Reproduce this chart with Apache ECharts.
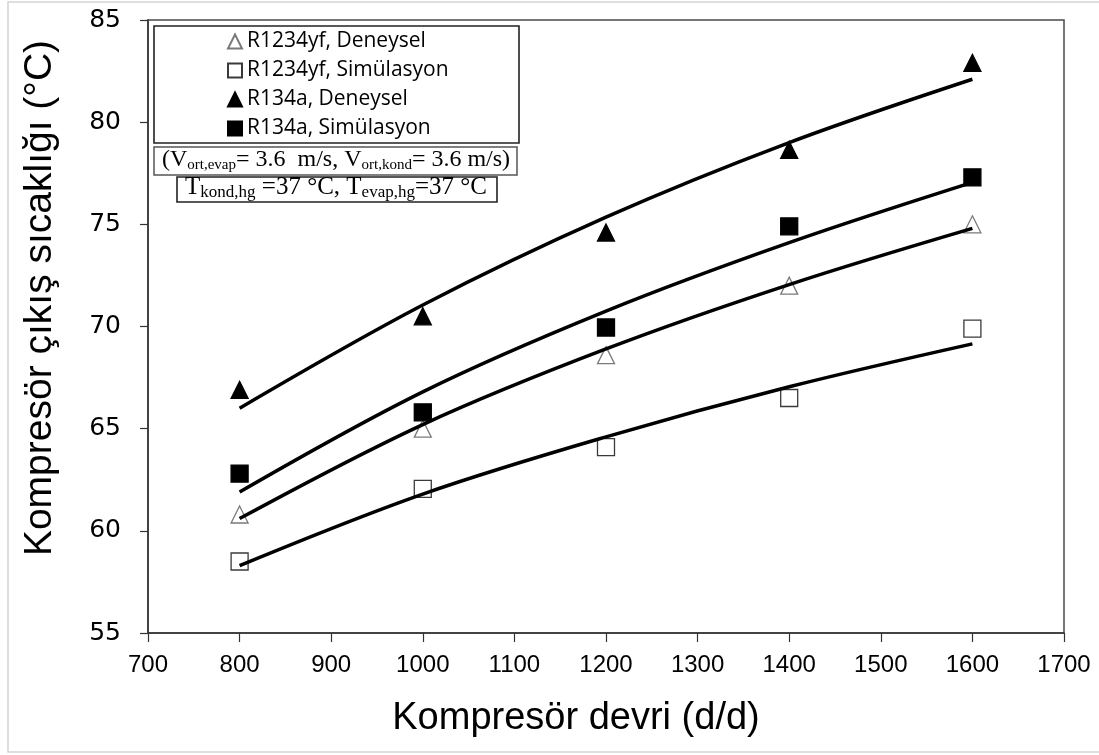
<!DOCTYPE html>
<html>
<head>
<meta charset="utf-8">
<script src="https://cdn.jsdelivr.net/npm/echarts@6/dist/echarts.min.js"></script>
<style>
  html, body { margin: 0; padding: 0; background: #fff; }
  #main { width: 1099px; height: 755px; }
</style>
</head>
<body>
<div id="main"></div>
<script>
// kompresör devri (d/d)
var rpm = [800, 1000, 1200, 1400, 1600]
var xTicks = [700, 800, 900, 1000, 1100, 1200, 1300, 1400, 1500, 1600, 1700]
var yTicks = [55, 60, 65, 70, 75, 80, 85]

// ölçülen / hesaplanan noktalar
var yfDeneysel = [60.8, 65.0, 68.6, 72.0, 75.0]
var yfSimulasyon = [58.5, 62.05, 64.1, 66.5, 69.9]
var r134aDeneysel = [66.9, 70.5, 74.6, 78.65, 82.9]
var r134aSimulasyon = [62.8, 65.8, 69.95, 74.9, 77.3]

// eğri uydurma çizgileri
var yfDeneyselFit = [60.6, 65.2, 68.9, 72.05, 74.8]
var yfSimulasyonFit = [58.3, 61.8, 64.6, 67.05, 69.15]
var r134aDeneyselFit = [66.0, 71.05, 75.35, 79.0, 82.1]
var r134aSimulasyonFit = [61.9, 66.8, 70.75, 74.1, 77.05]

var legendNames = ['R1234yf, Deneysel', 'R1234yf, Simülasyon', 'R134a, Deneysel', 'R134a, Simülasyon']

function pairs (xs, ys) {
  return xs.map(function (x, i) { return [x, ys[i]] })
}

function scatter (name, ys, symbol, fill, stroke) {
  return {
    name: name,
    type: 'scatter',
    data: pairs(rpm, ys),
    symbol: symbol,
    symbolSize: 17,
    z: 2,
    itemStyle: { color: fill, borderColor: stroke, borderWidth: 1.3, opacity: 1 }
  }
}

function fitLine (ys) {
  return {
    type: 'line',
    data: pairs(rpm, ys),
    smooth: 0.35,
    showSymbol: false,
    silent: true,
    z: 3,
    lineStyle: { color: '#000', width: 3.5 }
  }
}

var chart = echarts.init(document.getElementById('main'))
chart.setOption({
  animation: false,
  backgroundColor: '#fff',
  grid: {
    left: 148, right: 35, top: 20, bottom: 122,
    show: true, borderColor: '#4a4a4a', borderWidth: 1.5
  },
  legend: {
    data: legendNames,
    orient: 'vertical',
    left: 227,
    top: 31,
    padding: 0,
    itemWidth: 14,
    itemHeight: 14,
    itemGap: 8,
    textStyle: { fontFamily: 'Open Sans', fontSize: 21, lineHeight: 21, color: '#000' }
  },
  xAxis: {
    type: 'value',
    min: xTicks[0],
    max: xTicks[xTicks.length - 1],
    interval: 100,
    axisLine: { lineStyle: { color: '#333', width: 1.5 } },
    axisTick: { inside: false, length: 9, lineStyle: { color: '#333', width: 1.2 } },
    axisLabel: {
      margin: 20, fontFamily: 'Liberation Sans', fontSize: 24, color: '#000',
      formatter: function (v) { return String(v) }
    },
    splitLine: { show: false }
  },
  yAxis: {
    type: 'value',
    min: yTicks[0],
    max: yTicks[yTicks.length - 1],
    interval: 5,
    axisLine: { lineStyle: { color: '#333', width: 1.5 } },
    axisTick: { inside: false, length: 8, lineStyle: { color: '#333', width: 1.2 } },
    axisLabel: { margin: 27, fontFamily: 'DejaVu Sans', fontSize: 25, color: '#000' },
    splitLine: { show: false }
  },
  graphic: [
    // dış çerçeve
    { type: 'rect', shape: { x: 8, y: 2, width: 1100, height: 750 }, style: { fill: 'none', stroke: '#d4d4d4', lineWidth: 1.5 }, silent: true },
    // eksen başlıkları (orijinalde ortadan biraz kaymış)
    {
      type: 'text', x: 576, y: 719,
      style: { text: 'Kompresör devri (d/d)', fontFamily: 'Liberation Sans', fontSize: 38, fill: '#000', align: 'center', verticalAlign: 'middle' }
    },
    {
      type: 'text', x: 40, y: 298, rotation: Math.PI / 2,
      style: { text: 'Kompresör çıkış sıcaklığı (°C)', fontFamily: 'Liberation Sans', fontSize: 39, fill: '#000', align: 'center', verticalAlign: 'middle' }
    },
    // lejant ve not kutuları
    { type: 'rect', shape: { x: 154, y: 26, width: 365, height: 117 }, style: { fill: '#fff', stroke: '#222', lineWidth: 1.6 }, z: 1 },
    { type: 'rect', shape: { x: 154, y: 147, width: 363, height: 28 }, style: { fill: '#fff', stroke: '#555', lineWidth: 1.5 }, z: 1 },
    { type: 'rect', shape: { x: 177, y: 177, width: 320, height: 25 }, style: { fill: '#fff', stroke: '#222', lineWidth: 1.6 }, z: 1 },
    {
      type: 'text',
      x: 336, y: 148,
      z: 5,
      style: {
        text: '{a|(V}{s|ort,evap}{a|= 3.6  m/s, V}{s|ort,kond}{a|= 3.6 m/s)}',
        align: 'center',
        verticalAlign: 'top',
        fill: '#000',
        rich: {
          a: { fontFamily: 'Liberation Serif', fontSize: 24, lineHeight: 24, verticalAlign: 'top' },
          s: { fontFamily: 'Liberation Serif', fontSize: 15, lineHeight: 15, verticalAlign: 'top', padding: [10, 0, 0, 0] }
        }
      }
    },
    {
      type: 'text',
      x: 336, y: 175,
      z: 5,
      style: {
        text: '{a|T}{s|kond,hg}{a| =37 °C, T}{s|evap,hg}{a|=37 °C}',
        align: 'center',
        verticalAlign: 'top',
        fill: '#000',
        rich: {
          a: { fontFamily: 'Liberation Serif', fontSize: 25, lineHeight: 25, verticalAlign: 'top' },
          s: { fontFamily: 'Liberation Serif', fontSize: 17, lineHeight: 17, verticalAlign: 'top', padding: [9, 0, 0, 0] }
        }
      }
    }
  ],
  series: [
    scatter(legendNames[0], yfDeneysel, 'triangle', '#fff', '#7a7a7a'),
    scatter(legendNames[1], yfSimulasyon, 'rect', '#fff', '#3a3a3a'),
    scatter(legendNames[2], r134aDeneysel, 'triangle', '#000', '#000'),
    scatter(legendNames[3], r134aSimulasyon, 'rect', '#000', '#000'),
    fitLine(yfDeneyselFit),
    fitLine(yfSimulasyonFit),
    fitLine(r134aDeneyselFit),
    fitLine(r134aSimulasyonFit)
  ]
})
</script>
</body>
</html>
